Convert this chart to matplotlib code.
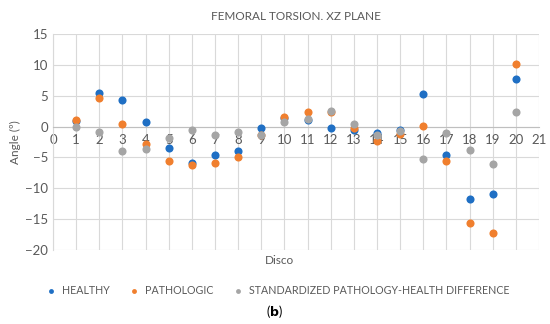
import matplotlib.pyplot as plt

discs = list(range(1, 21))
healthy = [0.9, 5.4, 4.3, 0.8, -3.5, -5.9, -4.6, -4.0, -0.3, 1.4,
           1.0, -0.3, -0.5, -1.0, -0.5, 5.3, -4.6, -11.8, -11.0, 7.7]
pathologic = [1.0, 4.6, 0.4, -2.9, -5.6, -6.3, -5.9, -5.0, -1.4, 1.5,
              2.3, 2.4, -0.2, -2.3, -1.2, 0.1, -5.6, -15.7, -17.2, 10.1]
difference = [0.0, -0.9, -3.9, -3.6, -1.9, -0.5, -1.4, -0.8, -1.4, 0.8,
              1.3, 2.6, 0.4, -1.3, -0.7, -5.3, -1.0, -3.8, -6.1, 2.3]

plt.rcParams["font.family"] = ["Lato", "DejaVu Sans"]
text_color = "#595959"

fig = plt.figure(figsize=(5.5, 3.24), dpi=100)
ax = fig.add_axes([53 / 550, 1 - 250 / 324, 486 / 550, 216 / 324])

ax.scatter(discs, healthy, s=34, color="#1F6FC4", label="HEALTHY", zorder=3, linewidths=0)
ax.scatter(discs, pathologic, s=34, color="#F07F2E", label="PATHOLOGIC", zorder=4, linewidths=0)
ax.scatter(discs, difference, s=34, color="#A5A5A5",
           label="STANDARDIZED PATHOLOGY-HEALTH DIFFERENCE", zorder=5, linewidths=0)

ax.set_xlim(0, 21)
ax.set_ylim(-20, 15)
ax.set_xticks(range(0, 22))
ax.set_yticks(range(-20, 16, 5))
ax.grid(True, color="#D9D9D9", linewidth=0.8)
ax.set_axisbelow(True)

for side in ["top", "right"]:
    ax.spines[side].set_visible(False)
ax.spines["left"].set_color("#D9D9D9")
ax.spines["bottom"].set_position(("data", 0))
ax.spines["bottom"].set_color("#BFBFBF")
ax.tick_params(length=0, labelsize=9.5, colors=text_color)
ax.tick_params(axis="x", pad=5)

ax.set_title("FEMORAL TORSION. XZ PLANE", fontsize=8.5, color=text_color, pad=10)
ax.set_ylabel("Angle (º)", fontsize=8.5, color=text_color, labelpad=3)
fig.text(280 / 550, 1 - 261 / 324, "Disco", ha="center", va="center",
         fontsize=8.5, color=text_color)

fig.legend(loc="center", bbox_to_anchor=(0.5, 1 - 290 / 324), ncol=3, frameon=False,
           fontsize=7.7, labelcolor=text_color, handletextpad=0.0, columnspacing=1.3,
           markerscale=0.6)
fig.text(0.5, 1 - 311 / 324, r"($\mathbf{b}$)", ha="center", va="center", fontsize=9,
         color="black")

fig.savefig("out.png", dpi=100)
